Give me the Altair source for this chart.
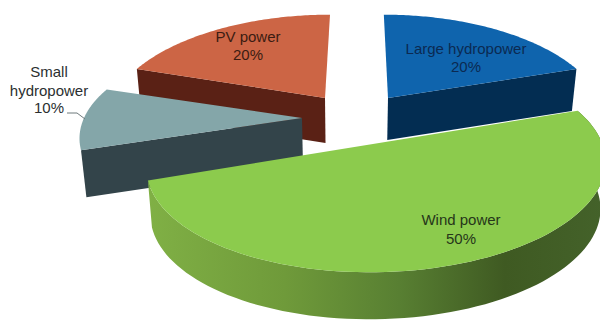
import math
import altair as alt
import pandas as pd

# Shares, clockwise from twelve o'clock
names = ["Large hydropower", "Wind power", "Small hydropower", "PV power"]
shares = [20, 50, 10, 20]

# Tilted-disc geometry of each exploded slice, in plot units
apex_x = [388, 376, 302, 325]
apex_y = [98, 143.5, 118, 98]
radius_x = [212, 225, 218, 212]
radius_y = [100, 103, 98, 100]
skew = [-5, 0, 0, 6]
roll = [0, -3, 0, 0]
depth = [42, 47, 47, 45]
perspective = 0.2
vanish_x = 350
vanish_rate = 0.02

top_colors = ["#0f64ad", "#8ccb4d", "#84a6a9", "#cc6545"]
side_colors = ["#032d52", "#5f8535", "#33444a", "#5a2115"]

label_lines = [
    ["Large hydropower", "20%"],
    ["Wind power", "50%"],
    ["Small", "hydropower", "10%"],
    ["PV power", "20%"],
]
label_x = [466, 461, 49, 248]
label_y = [[49, 67], [220, 239], [72, 91, 108], [37, 55]]
label_colors = ["#0b2a52", "#26361a", "#2b2f30", "#3b1c12"]
leader_x = [67, 77, 85]
leader_y = [113, 113, 119]

scale_x = alt.Scale(domain=[0, 600], range=[0, 600], nice=False, zero=False)
scale_y = alt.Scale(domain=[0, 320], range=[0, 320], nice=False, zero=False)


def rim(i, deg):
    """Project a point of slice i's rim, deg clockwise from north."""
    t = math.radians(deg)
    u, v = math.sin(t), math.cos(t)
    s = 1 / (1 + perspective * v)
    return (
        apex_x[i] + (radius_x[i] * u + skew[i] * v) * s,
        apex_y[i] + (roll[i] * u - radius_y[i] * v) * s,
    )


def drop(i, p):
    """Move a point from the top face down to the bottom of the slice."""
    return (p[0] + vanish_rate * (vanish_x - p[0]), p[1] + depth[i])


def polygon(points, fill):
    frame = pd.DataFrame(
        {"x": [p[0] for p in points], "y": [p[1] for p in points], "k": range(len(points))}
    )
    return (
        alt.Chart(frame)
        .mark_line(fill=fill, stroke=None, clip=True, interpolate="linear")
        .encode(
            x=alt.X("x:Q", scale=scale_x, axis=None),
            y=alt.Y("y:Q", scale=scale_y, axis=None),
            order="k:Q",
        )
    )


starts = [sum(shares[:i]) * 3.6 for i in range(len(shares))]
ends = [sum(shares[: i + 1]) * 3.6 for i in range(len(shares))]


def arc(i):
    n = 90
    return [rim(i, starts[i] + (ends[i] - starts[i]) * j / n) for j in range(n + 1)]


def top_face(i):
    return polygon([(apex_x[i], apex_y[i])] + arc(i), top_colors[i])


def radial_wall(i, deg):
    a = (apex_x[i], apex_y[i])
    b = rim(i, deg)
    return polygon([a, b, drop(i, b), drop(i, a)], side_colors[i])


wind_gradient = alt.Gradient(
    gradient="linear",
    x1=0, x2=1, y1=0, y2=0,
    stops=[
        alt.GradientStop(color="#80b045", offset=0),
        alt.GradientStop(color="#6f9a3a", offset=0.3),
        alt.GradientStop(color="#587f32", offset=0.55),
        alt.GradientStop(color="#3f5a22", offset=0.78),
        alt.GradientStop(color="#44622a", offset=1),
    ],
)

wind_arc = arc(1)
wind_wall = polygon(wind_arc + [drop(1, p) for p in reversed(wind_arc)], wind_gradient)

layers = [
    radial_wall(3, starts[3]),
    top_face(3),
    radial_wall(0, ends[0]),
    top_face(0),
    radial_wall(2, starts[2]),
    top_face(2),
    wind_wall,
    top_face(1),
]

leader = (
    alt.Chart(pd.DataFrame({"x": leader_x, "y": leader_y, "k": range(len(leader_x))}))
    .mark_line(color="#6f7a7c", strokeWidth=1)
    .encode(
        x=alt.X("x:Q", scale=scale_x, axis=None),
        y=alt.Y("y:Q", scale=scale_y, axis=None),
        order="k:Q",
    )
)
layers.append(leader)

for i, lines in enumerate(label_lines):
    frame = pd.DataFrame({"x": label_x[i], "y": label_y[i], "t": lines})
    layers.append(
        alt.Chart(frame)
        .mark_text(font="Liberation Sans", fontSize=15, color=label_colors[i], align="center", baseline="middle")
        .encode(
            x=alt.X("x:Q", scale=scale_x, axis=None),
            y=alt.Y("y:Q", scale=scale_y, axis=None),
            text="t:N",
        )
    )

chart = (
    alt.layer(*layers)
    .properties(width=600, height=320, padding=0, autosize=alt.AutoSizeParams(type="none"))
    .configure_view(stroke=None)
)
chart.save("out.html", embed_options={"renderer": "svg", "actions": False})
